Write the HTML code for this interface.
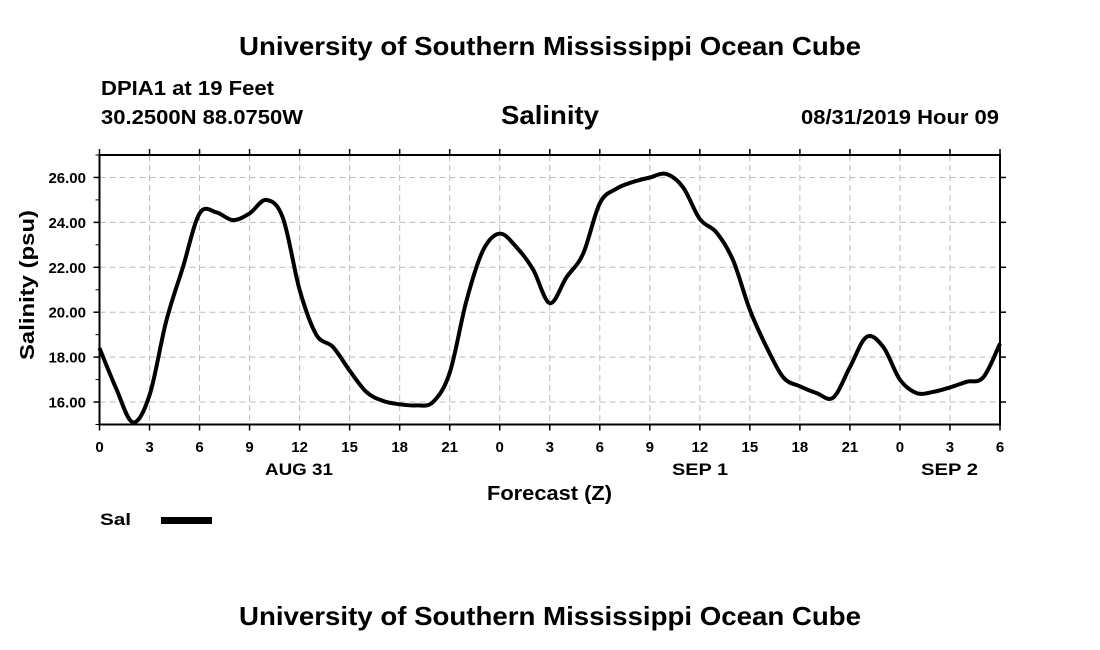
<!DOCTYPE html>
<html><head><meta charset="utf-8"><style>
html,body{margin:0;padding:0;background:#fff}
svg{display:block;font-family:"Liberation Sans",Arial,sans-serif;font-weight:bold}
</style></head><body>
<svg id="chart" width="1100" height="650" viewBox="0 0 1100 650">
<text x="550" y="55" text-anchor="middle" font-size="24" textLength="622" lengthAdjust="spacingAndGlyphs" style="font-size:26px">University of Southern Mississippi Ocean Cube</text>
<text x="101" y="95" font-size="20" textLength="173" lengthAdjust="spacingAndGlyphs">DPIA1 at 19 Feet</text>
<text x="101" y="124" font-size="20" textLength="202" lengthAdjust="spacingAndGlyphs">30.2500N 88.0750W</text>
<text x="501" y="124" font-size="26" textLength="98" lengthAdjust="spacingAndGlyphs">Salinity</text>
<text x="801" y="124" font-size="20" textLength="198" lengthAdjust="spacingAndGlyphs">08/31/2019 Hour 09</text>
<g id="grid"></g>
<g id="axes"></g>
<path id="line" fill="none" stroke="#000" stroke-width="4" stroke-linejoin="round"></path>
<rect x="99.5" y="155" width="900.5" height="269.5" fill="none" stroke="#000" stroke-width="2"></rect>
<text x="34" y="285" text-anchor="middle" font-size="20" textLength="150" lengthAdjust="spacingAndGlyphs" transform="rotate(-90 34 285)">Salinity (psu)</text>
<text x="487" y="500" font-size="20" textLength="125" lengthAdjust="spacingAndGlyphs">Forecast (Z)</text>
<text x="265" y="475" font-size="17" textLength="68" lengthAdjust="spacingAndGlyphs">AUG 31</text>
<text x="672" y="475" font-size="17" textLength="56" lengthAdjust="spacingAndGlyphs">SEP 1</text>
<text x="921" y="475" font-size="17" textLength="57" lengthAdjust="spacingAndGlyphs">SEP 2</text>
<g>
<text x="100" y="525" font-size="17" textLength="31" lengthAdjust="spacingAndGlyphs">Sal</text>
<rect x="161" y="517" width="51" height="7" fill="#000"></rect>
</g>
<text x="550" y="625" text-anchor="middle" font-size="26" textLength="622" lengthAdjust="spacingAndGlyphs">University of Southern Mississippi Ocean Cube</text>
</svg>
<script>
const hours = [0,1,2,3,4,5,6,7,8,9,10,11,12,13,14,15,16,17,18,19,20,21,22,23,24,25,26,27,28,29,30,31,32,33,34,35,36,37,38,39,40,41,42,43,44,45,46,47,48,49,50,51,52,53,54];
const salinity = [18.4,16.6,15.1,16.3,19.6,22.0,24.4,24.45,24.1,24.4,25.0,24.2,21.0,19.0,18.45,17.4,16.45,16.05,15.9,15.85,16.0,17.3,20.5,22.75,23.5,22.9,21.9,20.4,21.55,22.6,24.85,25.5,25.8,26.0,26.15,25.55,24.15,23.55,22.3,20.1,18.45,17.1,16.7,16.4,16.2,17.55,18.9,18.45,17.0,16.4,16.45,16.65,16.9,17.1,18.6];
const yTicks = [16,18,20,22,24,26];
const yTickLabels = ["16.00","18.00","20.00","22.00","24.00","26.00"];
const xTicks = [0,3,6,9,12,15,18,21,24,27,30,33,36,39,42,45,48,51,54];
const xTickLabels = ["0","3","6","9","12","15","18","21","0","3","6","9","12","15","18","21","0","3","6"];

const X0=99.5,X1=1000,Y0=424.5,Y1=155,XMIN=0,XMAX=54,YMIN=15,YMAX=27;
const xs=h=>X0+(h-XMIN)/(XMAX-XMIN)*(X1-X0);
const ys=v=>Y0-(v-YMIN)/(YMAX-YMIN)*(Y0-Y1);
const NS="http://www.w3.org/2000/svg";
const grid=document.getElementById('grid'), axes=document.getElementById('axes');
function mk(tag,attrs,parent){const e=document.createElementNS(NS,tag);for(const k in attrs)e.setAttribute(k,attrs[k]);parent.appendChild(e);return e;}
yTicks.forEach((v,i)=>{
  const y=ys(v);
  const g=mk('line',{x1:X0,x2:X1,y1:y,y2:y,stroke:'#bbb','stroke-width':1,'stroke-dasharray':'6,4'},grid);
  
  
  const t=mk('line',{x1:X0-6,x2:X0,y1:y,y2:y,stroke:'#000','stroke-width':1.5},axes);
  
  
  const tr=mk('line',{x1:X1,x2:X1+6,y1:y,y2:y,stroke:'#000','stroke-width':1.5},axes);
  
  
  const l=mk('text',{x:86,y:y+5.5,'text-anchor':'end','font-size':15},axes);
  l.textContent=yTickLabels[i];
  
  
});
for(let v=YMIN+0;v<=YMAX;v+=2){const y=ys(v);
  const m=mk('line',{x1:X0-4,x2:X0,y1:y,y2:y,stroke:'#000','stroke-width':1},axes);
  
  
}
xTicks.forEach((h,i)=>{
  const x=xs(h);
  if(i>0&&i<xTicks.length-1){
    const g=mk('line',{x1:x,x2:x,y1:Y1,y2:Y0,stroke:'#bbb','stroke-width':1,'stroke-dasharray':'6,4'},grid);
    
    
  }
  const t=mk('line',{x1:x,x2:x,y1:Y0,y2:Y0+6,stroke:'#000','stroke-width':1.5},axes);
  
  
  const tt=mk('line',{x1:x,x2:x,y1:Y1-6,y2:Y1,stroke:'#000','stroke-width':1.5},axes);
  
  
  const l=mk('text',{x:x,y:452,'text-anchor':'middle','font-size':15},axes);
  l.textContent=xTickLabels[i];
  
  
});
const pts=hours.map((h,i)=>[xs(h),ys(salinity[i])]);
let d='M'+pts[0][0].toFixed(1)+','+pts[0][1].toFixed(1);
for(let i=0;i<pts.length-1;i++){
  const p0=pts[Math.max(0,i-1)],p1=pts[i],p2=pts[i+1],p3=pts[Math.min(pts.length-1,i+2)];
  const c1=[p1[0]+(p2[0]-p0[0])/6,p1[1]+(p2[1]-p0[1])/6];
  const c2=[p2[0]-(p3[0]-p1[0])/6,p2[1]-(p3[1]-p1[1])/6];
  d+=' C'+c1.map(n=>n.toFixed(1)).join(',')+' '+c2.map(n=>n.toFixed(1)).join(',')+' '+p2.map(n=>n.toFixed(1)).join(',');
}
document.getElementById('line').setAttribute('d',d);
</script>
</body></html>
